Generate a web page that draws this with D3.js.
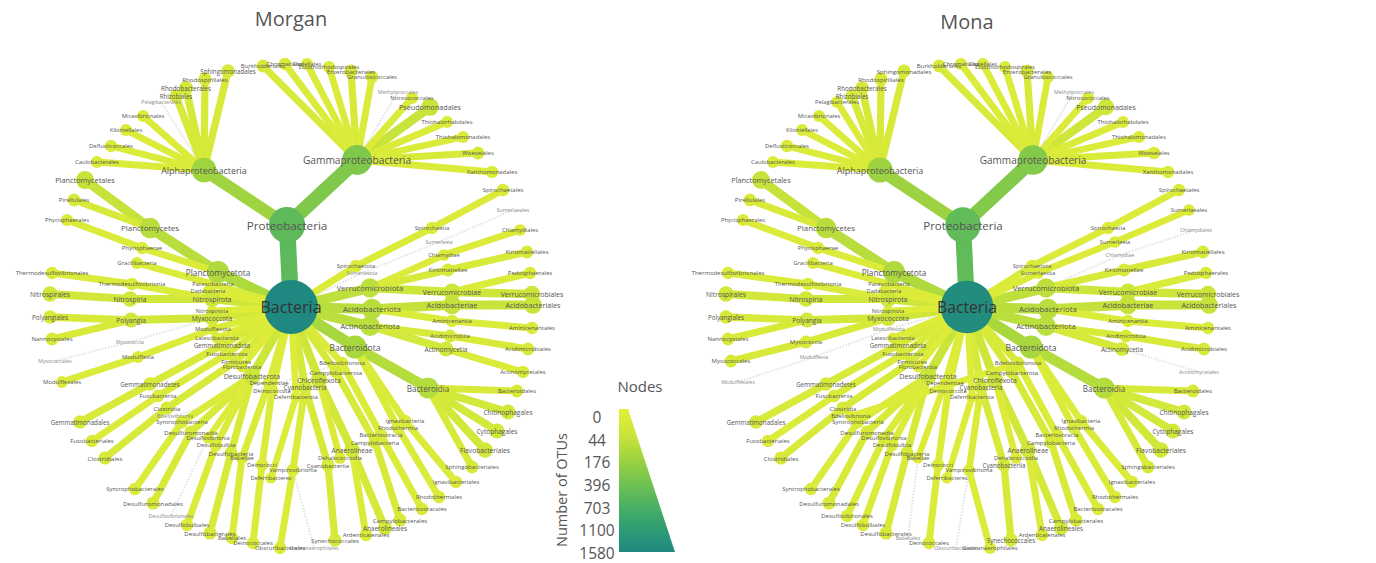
<!DOCTYPE html>
<html>
<head>
<meta charset="utf-8">
<script src="https://cdn.jsdelivr.net/npm/d3@7"></script>
<style>
  body { margin: 0; background: #fff; }
  svg { display: block; }
  text { font-family: "Open Sans", "Noto Sans", sans-serif; }
</style>
</head>
<body>
<svg id="chart" width="1376" height="563"></svg>
<script>
// ---- taxonomy ----
const taxa = [
  "Bacteria",
  "Proteobacteria", "Alphaproteobacteria",
  "Caulobacterales", "Defluviicoccales", "Kiloniellales", "Micavibrionales", "Pelagibacterales",
  "Rhizobiales", "Rhodobacterales", "Rhodospirillales", "Sphingomonadales",
  "Gammaproteobacteria",
  "Burkholderiales", "Chromatiales", "Coxiellales", "Ectothiorhodospirales", "Enterobacterales",
  "Granulosicoccales", "Methylococcales", "Nitrosococcales", "Pseudomonadales", "Thiohalorhabdales",
  "Thiohalomonadales", "Woeseiales", "Xanthomonadales",
  "Planctomycetota", "Planctomycetes", "Planctomycetales", "Pirellulales", "Phycisphaerae", "Phycisphaerales",
  "Patescibacteria", "Gracilibacteria", "Dadabacteria",
  "Nitrospirota", "Thermodesulfovibrionia", "Thermodesulfovibrionales", "Nitrospiria", "Nitrospirales",
  "Nitrospinota",
  "Myxococcota", "Polyangia", "Polyangiales", "Nannocystales", "Myxococcia", "Myxococcales",
  "Modulflexota", "Modulflexia", "Modulflexales",
  "Latescibacterota",
  "Gemmatimonadota", "Gemmatimonadetes", "Gemmatimonadales",
  "Fusobacteriota", "Fusobacteriia", "Fusobacteriales",
  "Firmicutes", "Clostridia", "Clostridiales",
  "Fibrobacterota",
  "Desulfobacterota", "Syntrophobacteria", "Syntrophobacterales", "Desulfuromonadia", "Desulfuromonadales",
  "Desulfovibrionia", "Desulfovibrionales", "Desulfobulbia", "Desulfobulbales", "Desulfobacteria", "Desulfobacterales",
  "Dependentiae", "Babeliae", "Babeliales",
  "Deinococcota", "Deinococci", "Deinococcales",
  "Deferribacterota", "Deferribacteres",
  "Cyanobacteria", "Vampirovibrionia", "Obscuribacterales", "Gastranaerophilales", "Cyanobacteriia", "Synechococcales",
  "Chloroflexota", "Anaerolineae", "Anaerolineales", "Ardenticatenales", "Dehalococcoidia",
  "Campylobacterota", "Campylobacteria", "Campylobacterales",
  "Bdellovibrionota", "Bdellovibrionia", "Bacteriovoracia", "Bacteriovoracales",
  "Bacteroidota", "Bacteroidia", "Bacteroidales", "Chitinophagales", "Cytophagales", "Flavobacteriales", "Sphingobacteriales",
  "Ignavibacteria", "Ignavibacteriales", "Rhodothermia", "Rhodothermales",
  "Actinobacteriota", "Acidimicrobiia", "Acidimicrobiales", "Actinomycetia", "Actinomycetales",
  "Acidobacteriota", "Acidobacteriae", "Acidobacteriales", "Aminicenantia", "Aminicenantales",
  "Verrucomicrobiota", "Verrucomicrobiae", "Verrucomicrobiales", "Pedosphaerales", "Kiritimatiellae", "Kiritimatiellales",
  "Chlamydiae", "Chlamydiales",
  "Spirochaetota", "Spirochaetia", "Spirochaetales",
  "Sumerlaeota", "Sumerlaeia", "Sumerlaeales"
];

const parents = [
  "",
  "Bacteria", "Proteobacteria",
  "Alphaproteobacteria", "Alphaproteobacteria", "Alphaproteobacteria", "Alphaproteobacteria", "Alphaproteobacteria",
  "Alphaproteobacteria", "Alphaproteobacteria", "Alphaproteobacteria", "Alphaproteobacteria",
  "Proteobacteria",
  "Gammaproteobacteria", "Gammaproteobacteria", "Gammaproteobacteria", "Gammaproteobacteria", "Gammaproteobacteria",
  "Gammaproteobacteria", "Gammaproteobacteria", "Gammaproteobacteria", "Gammaproteobacteria", "Gammaproteobacteria",
  "Gammaproteobacteria", "Gammaproteobacteria", "Gammaproteobacteria",
  "Bacteria", "Planctomycetota", "Planctomycetes", "Planctomycetes", "Planctomycetota", "Phycisphaerae",
  "Bacteria", "Patescibacteria", "Bacteria",
  "Bacteria", "Nitrospirota", "Thermodesulfovibrionia", "Nitrospirota", "Nitrospiria",
  "Bacteria",
  "Bacteria", "Myxococcota", "Polyangia", "Polyangia", "Myxococcota", "Myxococcia",
  "Bacteria", "Modulflexota", "Modulflexia",
  "Bacteria",
  "Bacteria", "Gemmatimonadota", "Gemmatimonadetes",
  "Bacteria", "Fusobacteriota", "Fusobacteriia",
  "Bacteria", "Firmicutes", "Clostridia",
  "Bacteria",
  "Bacteria", "Desulfobacterota", "Syntrophobacteria", "Desulfobacterota", "Desulfuromonadia",
  "Desulfobacterota", "Desulfovibrionia", "Desulfobacterota", "Desulfobulbia", "Desulfobacterota", "Desulfobacteria",
  "Bacteria", "Dependentiae", "Babeliae",
  "Bacteria", "Deinococcota", "Deinococci",
  "Bacteria", "Deferribacterota",
  "Bacteria", "Cyanobacteria", "Vampirovibrionia", "Vampirovibrionia", "Cyanobacteria", "Cyanobacteriia",
  "Bacteria", "Chloroflexota", "Anaerolineae", "Anaerolineae", "Chloroflexota",
  "Bacteria", "Campylobacterota", "Campylobacteria",
  "Bacteria", "Bdellovibrionota", "Bdellovibrionota", "Bacteriovoracia",
  "Bacteria", "Bacteroidota", "Bacteroidia", "Bacteroidia", "Bacteroidia", "Bacteroidia", "Bacteroidia",
  "Bacteroidota", "Ignavibacteria", "Bacteroidota", "Rhodothermia",
  "Bacteria", "Actinobacteriota", "Acidimicrobiia", "Actinobacteriota", "Actinomycetia",
  "Bacteria", "Acidobacteriota", "Acidobacteriae", "Acidobacteriota", "Aminicenantia",
  "Bacteria", "Verrucomicrobiota", "Verrucomicrobiae", "Verrucomicrobiae", "Verrucomicrobiota", "Kiritimatiellae",
  "Verrucomicrobiota", "Chlamydiae",
  "Bacteria", "Spirochaetota", "Spirochaetia",
  "Bacteria", "Sumerlaeota", "Sumerlaeia"
];

// ---- number of OTUs per taxon ----
const morganOTUs = [
  1580,
  570, 190,
  6, 8, 7, 6, 0,
  14, 18, 12, 14,
  340,
  10, 8, 6, 7, 12,
  8, 0, 7, 55, 6,
  7, 10, 8,
  130, 100, 62, 10, 8, 6,
  6, 6, 2,
  40, 8, 8, 30, 30,
  2,
  28, 28, 14, 10, 0, 0,
  6, 6, 6,
  3,
  14, 14, 14,
  8, 8, 8,
  12, 12, 12,
  2,
  45, 8, 8, 12, 12,
  3, 0, 8, 8, 12, 12,
  8, 8, 8,
  8, 8, 8,
  3, 3,
  20, 8, 8, 0, 12, 12,
  40, 30, 20, 8, 5,
  12, 12, 12,
  8, 0, 8, 8,
  150, 110, 10, 25, 25, 30, 10,
  8, 8, 8, 8,
  90, 10, 10, 25, 8,
  100, 65, 55, 8, 8,
  80, 45, 40, 8, 10, 10,
  5, 5,
  8, 8, 8,
  0, 0, 0
];

const monaOTUs = [
  1490,
  540, 200,
  6, 8, 6, 6, 5,
  14, 16, 12, 12,
  320,
  10, 7, 6, 6, 12,
  6, 0, 7, 40, 6,
  6, 9, 8,
  130, 100, 60, 10, 8, 6,
  6, 6, 2,
  40, 8, 8, 30, 30,
  2,
  38, 26, 14, 10, 10, 10,
  0, 0, 0,
  3,
  14, 14, 14,
  8, 8, 8,
  12, 12, 12,
  2,
  50, 8, 8, 12, 12,
  8, 8, 8, 8, 12, 12,
  3, 3, 0,
  8, 8, 8,
  3, 3,
  20, 6, 0, 6, 14, 14,
  40, 30, 20, 8, 5,
  12, 12, 12,
  10, 3, 8, 8,
  150, 110, 10, 25, 25, 30, 10,
  8, 8, 8, 8,
  90, 10, 10, 20, 0,
  100, 65, 55, 8, 8,
  80, 45, 40, 8, 10, 10,
  0, 0,
  8, 8, 8,
  5, 5, 5
];

const samples = ["Morgan", "Mona"];
const sampleOTUs = [morganOTUs, monaOTUs];
const legendTicks = [0, 44, 176, 396, 703, 1100, 1580];

// ---- heat-tree layout (offsets from the root node, layout units) ----
const layoutDX = [
  0,
  -4, -87,
  -194, -180, -165, -148, -130,
  -115, -105, -86, -63,
  66,
  -28, -6, 16, 38, 60,
  81, 107, 121, 139, 156,
  172, 187, 201,
  -73, -141, -206, -217, -149, -224,
  -78, -154, -83,
  -79, -159, -239, -161, -241,
  -79,
  -79, -160, -241, -239, -161, -236,
  -78, -153, -229,
  -74,
  -69, -141, -211,
  -64, -133, -199,
  -55, -124, -186,
  -49,
  -39, -109, -156, -100, -138,
  -83, -120, -75, -104, -60, -81,
  -22, -49, -59,
  -19, -29, -38,
  5, -20,
  14, 2, -11, 23, 37, 44,
  28, 61, 94, 75, 49,
  45, 84, 109,
  51, -116, 90, 131,
  64, 137, 226, 217, 206, 194, 181,
  114, 165, 107, 148,
  79, 159, 237, 155, 232,
  81, 161, 242, 161, 241,
  79, 161, 241, 239, 157, 236,
  153, 229,
  65, 141, 212,
  71, 148, 222
];
const layoutDY = [
  0,
  -82, -137,
  -145, -161, -177, -191, -205,
  -211, -219, -228, -236,
  -147,
  -241, -243, -243, -240, -236,
  -230, -215, -209, -200, -185,
  -170, -154, -135,
  -35, -79, -127, -107, -59, -87,
  -23, -44, -16,
  -8, -23, -34, -8, -13,
  4,
  11, 13, 10, 32, 35, 54,
  22, 50, 75,
  31,
  38, 77, 115,
  47, 89, 134,
  54, 101, 151,
  60,
  69, 115, 182, 125, 196,
  131, 209, 138, 218, 146, 226,
  76, 151, 231,
  84, 158, 236,
  90, 171,
  80, 163, 241, 241, 158, 233,
  73, 143, 221, 228, 151,
  65, 135, 213,
  56, 109, 128, 202,
  40, 81, 84, 105, 124, 143, 160,
  114, 175, 121, 190,
  19, 29, 42, 42, 65,
  2, -2, -2, 14, 21,
  -19, -15, -13, -34, -37, -55,
  -52, -77,
  -41, -79, -117,
  -34, -65, -97
];

// ---- encodings ----
const maxOTU = d3.max(legendTicks);
const radius   = d3.scaleSqrt().domain([0, maxOTU]).range([4.6, 27]);
const fontSize = d3.scaleSqrt().domain([0, maxOTU]).range([5.2, 16]);
// lime-yellow through green to teal, evenly spaced on the square-root axis
const colorStops = ["#e3ee38", "#cde63a", "#a3d53f", "#76c44f", "#4cb262", "#2f9d74", "#1f8880"];
const color = d3.scaleSqrt()
  .domain(colorStops.map((c, i) => maxOTU * Math.pow(i / (colorStops.length - 1), 2)))
  .range(colorStops)
  .interpolate(d3.interpolateRgb);
const edgeWidth = v => 2 + 0.8 * radius(v);

const svg = d3.select("#chart");
const index = new Map(taxa.map((t, i) => [t, i]));

const panelCenters = [[291, 307], [967, 307]];
const titleY = [18, 21];

samples.forEach((name, p) => {
  const counts = sampleOTUs[p];
  const [cx, cy] = panelCenters[p];
  const x = d3.scaleLinear().domain([-300, 300]).range([cx - 300, cx + 300]);
  const y = d3.scaleLinear().domain([-300, 300]).range([cy - 300, cy + 300]);

  const nodes = taxa.map((t, i) => ({
    name: t,
    parent: parents[i] === "" ? null : index.get(parents[i]),
    value: counts[i],
    x: x(layoutDX[i]),
    y: y(layoutDY[i])
  }));

  const g = svg.append("g").attr("class", "tree-" + name.toLowerCase());

  const links = nodes.filter(d => d.parent !== null);

  // taxa without OTUs: faint dotted connectors
  g.append("g").selectAll("line")
    .data(links.filter(d => d.value === 0))
    .join("line")
    .attr("x1", d => nodes[d.parent].x).attr("y1", d => nodes[d.parent].y)
    .attr("x2", d => d.x).attr("y2", d => d.y)
    .attr("stroke", "#e2e2e2")
    .attr("stroke-width", 2)
    .attr("stroke-dasharray", "1.5,1.5");

  // weighted edges, wide ones underneath
  g.append("g").selectAll("line")
    .data(links.filter(d => d.value > 0).sort((a, b) => b.value - a.value))
    .join("line")
    .attr("x1", d => nodes[d.parent].x).attr("y1", d => nodes[d.parent].y)
    .attr("x2", d => d.x).attr("y2", d => d.y)
    .attr("stroke", d => color(d.value))
    .attr("stroke-width", d => edgeWidth(d.value))
    .attr("stroke-linecap", "butt");

  // nodes
  g.append("g").selectAll("circle")
    .data(nodes.filter(d => d.value > 0).sort((a, b) => a.value - b.value))
    .join("circle")
    .attr("cx", d => d.x).attr("cy", d => d.y)
    .attr("r", d => radius(d.value))
    .attr("fill", d => color(d.value));

  // labels
  g.append("g").selectAll("text")
    .data(nodes.slice().sort((a, b) => a.value - b.value))
    .join("text")
    .attr("x", d => d.x).attr("y", d => d.y)
    .attr("text-anchor", "middle")
    .attr("dominant-baseline", "central")
    .attr("font-size", d => fontSize(d.value))
    .attr("fill", d => d.value >= 1000 ? "#333" : (d.value === 0 ? "#888" : "#555"))
    .text(d => d.name);

  // sample title
  svg.append("text")
    .attr("x", cx).attr("y", titleY[p])
    .attr("text-anchor", "middle")
    .attr("dominant-baseline", "central")
    .attr("font-size", 20)
    .attr("fill", "#555")
    .text(name);
});

// ---- legend ----
const legTop = 409, legBottom = 552, legLeft = 619;
const legY = d3.scaleSqrt().domain([0, maxOTU]).range([417, 553]);
const legW = d3.scaleSqrt().domain([0, maxOTU]).range([9, 56]);

const defs = svg.append("defs");
const grad = defs.append("linearGradient")
  .attr("id", "legendGrad").attr("x1", 0).attr("y1", 0).attr("x2", 0).attr("y2", 1);
d3.range(0, 1.0001, 0.1).forEach(t => {
  grad.append("stop")
    .attr("offset", t)
    .attr("stop-color", color(Math.pow(t, 2) * maxOTU));
});

svg.append("path")
  .attr("d", d3.line()([
    [legLeft, legTop],
    [legLeft + legW(0), legTop],
    [legLeft + legW(maxOTU), legBottom],
    [legLeft, legBottom]
  ]) + "Z")
  .attr("fill", "url(#legendGrad)");

svg.append("text")
  .attr("x", 640).attr("y", 386)
  .attr("text-anchor", "middle").attr("dominant-baseline", "central")
  .attr("font-size", 15).attr("fill", "#555")
  .text("Nodes");

svg.append("g").selectAll("text")
  .data(legendTicks)
  .join("text")
  .attr("x", 597)
  .attr("y", d => legY(d))
  .attr("text-anchor", "middle").attr("dominant-baseline", "central")
  .attr("font-size", 15.5).attr("fill", "#555")
  .text(d => d);

svg.append("text")
  .attr("transform", "translate(561,490) rotate(-90)")
  .attr("text-anchor", "middle").attr("dominant-baseline", "central")
  .attr("font-size", 14.5).attr("fill", "#555")
  .text("Number of OTUs");
</script>
</body>
</html>
